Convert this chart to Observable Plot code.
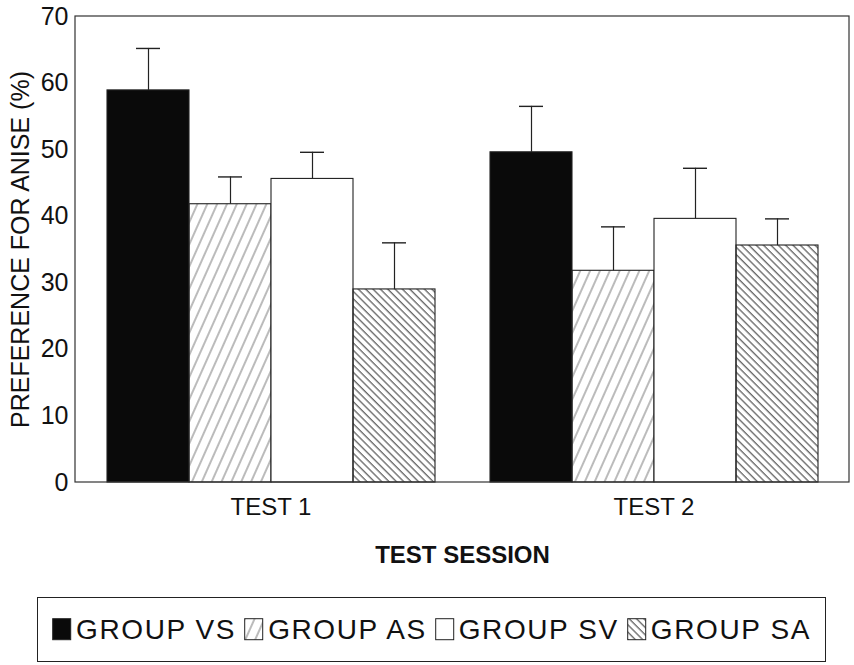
<!DOCTYPE html>
<html>
<head>
<meta charset="utf-8">
<script src="https://cdn.jsdelivr.net/npm/d3@7"></script>
<script src="https://cdn.jsdelivr.net/npm/@observablehq/plot@0.6"></script>
<style>
  body { margin: 0; background: #fff; font-family: "Liberation Sans", Arial, sans-serif; color: #111; }
  #wrap { position: relative; width: 854px; height: 665px; }
  #chart { position: absolute; left: 0; top: 0; }
  g[aria-label="fx-axis label"] text { font-weight: bold; }
  #legend { position: absolute; left: 37px; top: 597px; width: 787px; height: 63px; border: 1.3px solid #222;
            display: flex; align-items: center; justify-content: center; gap: 0; font-size: 28px; letter-spacing: 1.6px; }
  .item { display: flex; align-items: center; margin: 0 4px; }
  .item svg { margin-right: 4px; }
</style>
</head>
<body>
<div id="wrap">
  <div id="chart"></div>
  <div id="legend"></div>
</div>
<script>
const sessions = ["TEST 1", "TEST 2"];
const groups = ["GROUP VS", "GROUP AS", "GROUP SV", "GROUP SA"];
const meansTest1 = [58.9, 41.8, 45.6, 29.0];
const meansTest2 = [49.6, 31.8, 39.6, 35.6];
const errTest1 = [6.3, 4.1, 4.0, 7.0];
const errTest2 = [6.9, 6.6, 7.6, 4.0];
const yTicks = [0, 10, 20, 30, 40, 50, 60, 70];
const fills = ["#0a0a0a", "url(#hatchAS)", "#ffffff", "url(#hatchSA)"];

const data = [];
groups.forEach((g, i) => {
  data.push({session: sessions[0], group: g, mean: meansTest1[i], upper: meansTest1[i] + errTest1[i]});
  data.push({session: sessions[1], group: g, mean: meansTest2[i], upper: meansTest2[i] + errTest2[i]});
});

const W = 854, H = 578, ML = 75, MR = 5, MT = 16, MB = 96;

const plot = Plot.plot({
  width: W, height: H,
  marginLeft: ML, marginRight: MR, marginTop: MT, marginBottom: MB,
  style: {fontFamily: '"Liberation Sans", Arial, sans-serif', color: "#111", background: "transparent"},
  fx: {domain: sessions, paddingInner: 0.14, paddingOuter: 0.08},
  x: {domain: groups, padding: 0, axis: null},
  y: {domain: [0, 70]},
  color: {domain: groups, range: fills},
  marks: [
    Plot.axisY({ticks: yTicks, tickSize: 0, tickPadding: 8, fontSize: 25, dx: -30,
      label: "PREFERENCE FOR ANISE (%)", labelAnchor: "center", labelArrow: "none", labelOffset: 95}),
    Plot.axisFx({anchor: "bottom", tickSize: 0, tickPadding: 15, fontSize: 24,
      label: "TEST SESSION", labelAnchor: "center", labelArrow: "none", labelOffset: 80}),
    Plot.ruleX(data, {fx: "session", x: "group", y1: "mean", y2: "upper", stroke: "#222", strokeWidth: 1.2}),
    Plot.tickY(data, {fx: "session", x: "group", y: "upper", stroke: "#222", strokeWidth: 1.4, insetLeft: 29, insetRight: 29}),
    Plot.barY(data, {fx: "session", x: "group", y: "mean", fill: "group", stroke: "#222", strokeWidth: 1.1})
  ]
});

const svg = d3.select(plot);
const defs = svg.insert("defs", ":first-child");
const pAS = defs.append("pattern").attr("id", "hatchAS").attr("patternUnits", "userSpaceOnUse")
  .attr("width", 9).attr("height", 10).attr("patternTransform", "rotate(24)");
pAS.append("line").attr("x1", 1).attr("y1", 0).attr("x2", 1).attr("y2", 10).attr("stroke", "#555").attr("stroke-width", 0.8);
const pSA = defs.append("pattern").attr("id", "hatchSA").attr("patternUnits", "userSpaceOnUse")
  .attr("width", 5.2).attr("height", 10).attr("patternTransform", "rotate(-45)");
pSA.append("line").attr("x1", 1).attr("y1", 0).attr("x2", 1).attr("y2", 10).attr("stroke", "#333").attr("stroke-width", 1);

// outer frame around the whole plotting area
svg.append("rect").attr("x", ML).attr("y", MT).attr("width", W - ML - MR).attr("height", H - MT - MB)
  .attr("fill", "none").attr("stroke", "#333").attr("stroke-width", 1.2);

document.getElementById("chart").appendChild(plot);

// legend
const legend = d3.select("#legend");
groups.forEach((g, i) => {
  const item = legend.append("div").attr("class", "item");
  const s = item.append("svg").attr("width", 20).attr("height", 23);
  s.append("rect").attr("x", 0.7).attr("y", 0.7).attr("width", 18).attr("height", 21)
    .attr("fill", fills[i]).attr("stroke", "#222").attr("stroke-width", 1);
  item.append("span").text(g);
});
</script>
</body>
</html>
